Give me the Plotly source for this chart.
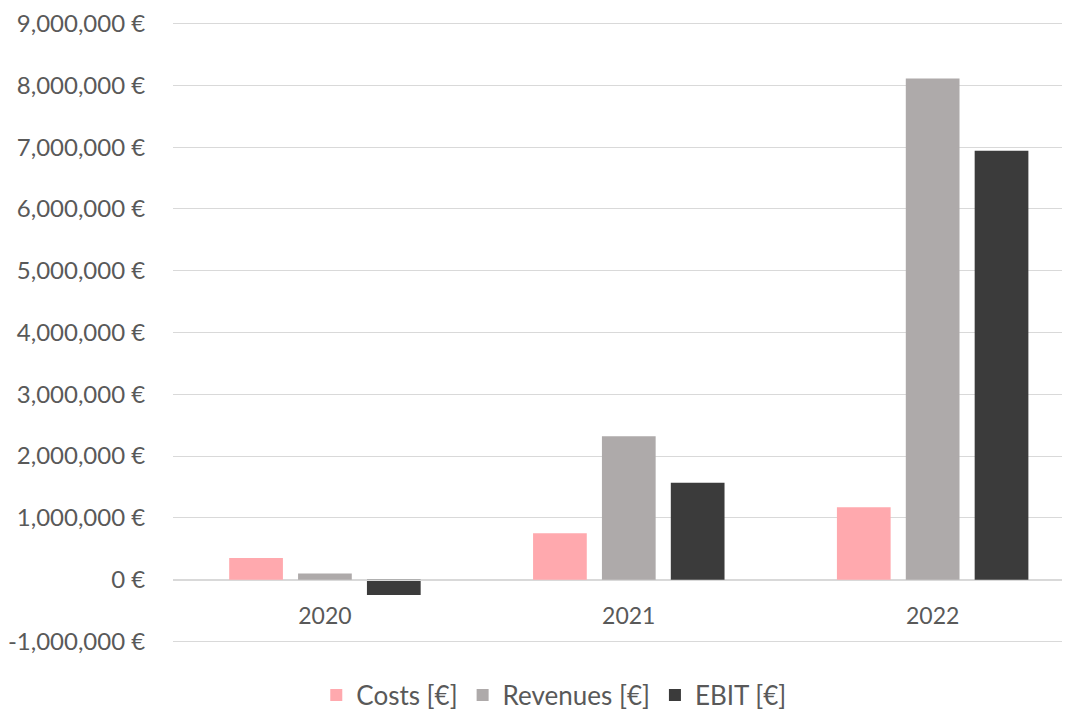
import plotly.graph_objects as go

years = ["2020", "2021", "2022"]
costs = [350000, 750000, 1170000]
revenues = [100000, 2320000, 8110000]
ebit = [-250000, 1570000, 6940000]

series_names = ["Costs [€]", "Revenues [€]", "EBIT [€]"]
colors = ["#FFA9AE", "#AEAAAA", "#3B3B3B"]

tick_vals = [-1000000, 0, 1000000, 2000000, 3000000, 4000000, 5000000,
             6000000, 7000000, 8000000, 9000000]
tick_text = [f"{v:,} €" for v in tick_vals]

FONT = "Lato, Carlito, Calibri, sans-serif"
TXT = "#595959"
PAD = 25000  # small padding so end gridlines are drawn

fig = go.Figure()
for name, vals, col in zip(series_names, [costs, revenues, ebit], colors):
    fig.add_trace(go.Bar(x=years, y=vals, name=name,
                         marker=dict(color=col, line=dict(width=0))))

fig.update_layout(
    width=1062, height=711,
    margin=dict(l=163, r=0, t=13, b=74),
    paper_bgcolor="white", plot_bgcolor="white",
    barmode="group", bargap=0.32, bargroupgap=0.22,
    font=dict(family=FONT, color=TXT, size=22),
    legend=dict(orientation="h", x=0.4245, xanchor="center",
                y=-0.046, yanchor="top",
                font=dict(size=26, color=TXT),
                itemwidth=30, traceorder="normal"),
    showlegend=True,
)
fig.update_yaxes(range=[-1000000 - PAD, 9000000 + PAD], tickvals=tick_vals, ticktext=tick_text,
                 showgrid=True, gridcolor="#D9D9D9", gridwidth=1.3,
                 zeroline=False, showline=False,
                 ticks="outside", ticklen=22, tickcolor="rgba(0,0,0,0)",
                 ticklabeloverflow="allow",
                 tickfont=dict(size=24, color=TXT, family=FONT))
fig.update_xaxes(type="category", range=[-0.5, 2.452],
                 anchor="free", position=(PAD + 1000000) / (10000000 + 2 * PAD),
                 showline=True, linecolor="#D9D9D9", linewidth=1.3,
                 showgrid=False, zeroline=False,
                 ticks="outside", ticklen=16, tickcolor="rgba(0,0,0,0)",
                 tickfont=dict(size=23, color=TXT, family=FONT))

fig.write_html("out.html")
